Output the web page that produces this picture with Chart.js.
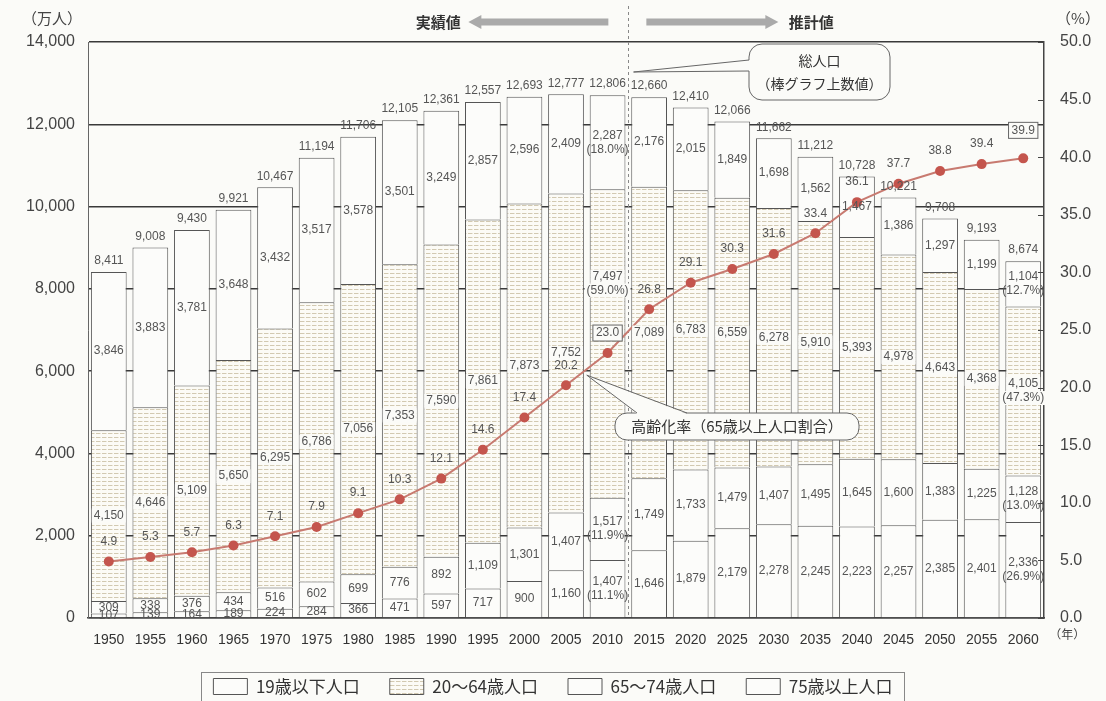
<!DOCTYPE html>
<html lang="ja">
<head>
<meta charset="utf-8">
<script src="https://cdn.jsdelivr.net/npm/chart.js@4.4.1/dist/chart.umd.min.js"></script>
<style>
  html, body { margin: 0; padding: 0; background: #fbfbf8; }
  #wrap { width: 1106px; height: 701px; }
</style>
</head>
<body>
<div id="wrap"><canvas id="chart" width="1106" height="701"></canvas></div>
<script>
var years = ['1950', '1955', '1960', '1965', '1970', '1975', '1980', '1985', '1990', '1995', '2000', '2005',
  '2010', '2015', '2020', '2025', '2030', '2035', '2040', '2045', '2050', '2055', '2060'];

// 万人, stacked from the bottom up
var pop75plus = [107, 139, 164, 189, 224, 284, 366, 471, 597, 717, 900, 1160,
  1407, 1646, 1879, 2179, 2278, 2245, 2223, 2257, 2385, 2401, 2336];
var pop65to74 = [309, 338, 376, 434, 516, 602, 699, 776, 892, 1109, 1301, 1407,
  1517, 1749, 1733, 1479, 1407, 1495, 1645, 1600, 1383, 1225, 1128];
var pop20to64 = [4150, 4646, 5109, 5650, 6295, 6786, 7056, 7353, 7590, 7861, 7873, 7752,
  7497, 7089, 6783, 6559, 6278, 5910, 5393, 4978, 4643, 4368, 4105];
var pop19under = [3846, 3883, 3781, 3648, 3432, 3517, 3578, 3501, 3249, 2857, 2596, 2409,
  2287, 2176, 2015, 1849, 1698, 1562, 1467, 1386, 1297, 1199, 1104];
var totalPop = [8411, 9008, 9430, 9921, 10467, 11194, 11706, 12105, 12361, 12557, 12693, 12777,
  12806, 12660, 12410, 12066, 11662, 11212, 10728, 10221, 9708, 9193, 8674];

// 高齢化率 (%)
var agingRate = [4.9, 5.3, 5.7, 6.3, 7.1, 7.9, 9.1, 10.3, 12.1, 14.6, 17.4, 20.2,
  23.0, 26.8, 29.1, 30.3, 31.6, 33.4, 36.1, 37.7, 38.8, 39.4, 39.9];

// age-group shares, same order as the stack (75+, 65-74, 20-64, 0-19)
var shares2010 = [11.1, 11.9, 59.0, 18.0];
var shares2060 = [26.9, 13.0, 47.3, 12.7];

var leftTicks = [0, 2000, 4000, 6000, 8000, 10000, 12000, 14000];
var rightTicks = [0, 5, 10, 15, 20, 25, 30, 35, 40, 45, 50];

var FONT = '"Liberation Sans", Arial, "Noto Sans CJK JP", sans-serif';
var JFONT = '"Noto Sans CJK JP", sans-serif';
var BG = '#fbfbf8';
var LEGEND_PAD = 30;

var canvas = document.getElementById('chart');
var ctx = canvas.getContext('2d');

function makeDots() {
  var c = document.createElement('canvas');
  c.width = 6; c.height = 4;
  var g = c.getContext('2d');
  g.fillStyle = '#fcfbf6';
  g.fillRect(0, 0, 6, 4);
  g.fillStyle = 'rgba(175,160,120,0.55)';
  g.fillRect(0, 1, 4, 1);
  g.fillStyle = 'rgba(175,160,120,0.25)';
  g.fillRect(4, 1, 1, 1);
  return ctx.createPattern(c, 'repeat');
}

function fmt(n) {
  return n.toLocaleString('en-US');
}

function shareFor(i, d) {
  if (years[i] === '2010') return shares2010[d];
  if (years[i] === '2060') return shares2060[d];
  return null;
}

var barLabels = {
  id: 'barLabels',
  afterDatasetsDraw: function(chart) {
    var c = chart.ctx;
    c.save();
    c.font = '12px ' + FONT;
    c.textAlign = 'center';
    c.textBaseline = 'middle';
    for (var d = 0; d < 4; d++) {
      var meta = chart.getDatasetMeta(d);
      var vals = chart.data.datasets[d].data;
      meta.data.forEach(function(bar, i) {
        var cy = (bar.y + bar.base) / 2;
        // 2010 working-age label sits high to keep clear of the rate line
        if (d === 2 && years[i] === '2010') cy -= 60;
        var lines = [fmt(vals[i])];
        var s = shareFor(i, d);
        if (s !== null) lines.push('(' + s.toFixed(1) + '%)');
        var lh = 14;
        var y0 = cy - (lines.length - 1) * lh / 2;
        lines.forEach(function(t, k) {
          var w = c.measureText(t).width;
          if (d === 2) {
            c.fillStyle = BG;
            c.fillRect(bar.x - w / 2 - 2, y0 + k * lh - 7, w + 4, 14);
          }
          c.fillStyle = '#555';
          c.fillText(t, bar.x, y0 + k * lh);
        });
      });
    }
    // totals above the bars
    var top = chart.getDatasetMeta(3);
    top.data.forEach(function(bar, i) {
      c.fillStyle = '#555';
      c.fillText(fmt(totalPop[i]), bar.x, bar.y - 11);
    });
    // aging rate values above the points
    var line = chart.getDatasetMeta(4);
    line.data.forEach(function(pt, i) {
      var t = agingRate[i].toFixed(1);
      var ty = pt.y - 20;
      if (i === 12 || i === 22) {
        var w = c.measureText(t).width;
        if (i === 22) ty = pt.y - 28;
        c.fillStyle = BG;
        c.fillRect(pt.x - w / 2 - 3, ty - 8, w + 6, 16);
        c.strokeStyle = '#666';
        c.lineWidth = 1;
        c.strokeRect(pt.x - w / 2 - 3, ty - 8, w + 6, 16);
      }
      c.fillStyle = '#555';
      c.fillText(t, pt.x, ty);
    });
    c.restore();
  }
};

function roundBox(c, x, y, w, h, r) {
  c.beginPath();
  c.moveTo(x + r, y);
  c.lineTo(x + w - r, y);
  c.arcTo(x + w, y, x + w, y + r, r);
  c.lineTo(x + w, y + h - r);
  c.arcTo(x + w, y + h, x + w - r, y + h, r);
  c.lineTo(x + r, y + h);
  c.arcTo(x, y + h, x, y + h - r, r);
  c.lineTo(x, y + r);
  c.arcTo(x, y, x + r, y, r);
  c.closePath();
}

function arrow(c, x0, x1, y, dir) {
  // gray band with a triangular head at x1
  var head = 13 * dir;
  c.fillStyle = '#aaa';
  c.beginPath();
  c.moveTo(x0, y - 3.5);
  c.lineTo(x1 - head, y - 3.5);
  c.lineTo(x1 - head, y - 7);
  c.lineTo(x1, y);
  c.lineTo(x1 - head, y + 7);
  c.lineTo(x1 - head, y + 3.5);
  c.lineTo(x0, y + 3.5);
  c.closePath();
  c.fill();
}

var decor = {
  id: 'decor',
  afterLayout: function(chart) {
    chart.legend.top += 4;
    chart.legend.bottom += 4;
  },
  beforeDatasetsDraw: function(chart) {
    var c = chart.ctx, xs = chart.scales.x, a = chart.chartArea;
    var divX = Math.round((xs.getPixelForValue(12) + xs.getPixelForValue(13)) / 2) + 0.5;
    c.save();
    c.strokeStyle = '#888';
    c.lineWidth = 1;
    c.setLineDash([3, 3]);
    c.beginPath();
    c.moveTo(divX, 6);
    c.lineTo(divX, a.bottom);
    c.stroke();
    c.restore();
  },
  afterDraw: function(chart) {
    var c = chart.ctx, a = chart.chartArea;
    var xs = chart.scales.x, y1 = chart.scales.y1;
    var divX = (xs.getPixelForValue(12) + xs.getPixelForValue(13)) / 2;
    c.save();

    // 実績値 / 推計値 header
    arrow(c, divX - 20, divX - 160, 22, -1);
    arrow(c, divX + 18, divX + 150, 22, 1);
    c.fillStyle = '#333';
    c.font = 'bold 15px ' + JFONT;
    c.textAlign = 'center';
    c.textBaseline = 'middle';
    c.fillText('実績値', divX - 190, 22);
    c.fillText('推計値', divX + 183, 22);

    // axis unit captions
    c.font = '15px ' + JFONT;
    c.fillStyle = '#444';
    c.fillText('（万人）', 52, 18);
    c.fillText('（%）', 1078, 18);
    c.font = '12px ' + JFONT;
    c.fillText('（年）', xs.getPixelForValue(22) + 44, 634);

    // inward ticks on the right axis
    c.strokeStyle = '#444';
    c.lineWidth = 1;
    rightTicks.forEach(function(v) {
      var yy = Math.round(y1.getPixelForValue(v)) + 0.5;
      c.beginPath();
      c.moveTo(a.right - 6, yy);
      c.lineTo(a.right, yy);
      c.stroke();
    });

    // 総人口 callout
    var bx = 749, by = 44, bw = 141, bh = 56;
    var tipX = xs.getPixelForValue(12) + 26, tipY = 72;
    c.fillStyle = BG;
    c.strokeStyle = '#666';
    c.lineWidth = 1;
    roundBox(c, bx, by, bw, bh, 13);
    c.fill();
    c.stroke();
    c.beginPath();
    c.moveTo(bx + 1, by + 16);
    c.lineTo(tipX, tipY);
    c.lineTo(bx + 1, by + 27);
    c.closePath();
    c.fill();
    c.beginPath();
    c.moveTo(bx, by + 16);
    c.lineTo(tipX, tipY);
    c.lineTo(bx, by + 27);
    c.stroke();
    c.fillStyle = '#333';
    c.font = '14px ' + JFONT;
    c.fillText('総人口', bx + bw / 2, by + 17);
    c.fillText('（棒グラフ上数値）', bx + bw / 2, by + 40);

    // 高齢化率 callout
    var px = (xs.getPixelForValue(11) + xs.getPixelForValue(12)) / 2;
    var py = y1.getPixelForValue((agingRate[11] + agingRate[12]) / 2) + 6;
    var cx = 615, cy = 413, cw = 244, ch = 27;
    c.fillStyle = BG;
    c.strokeStyle = '#666';
    roundBox(c, cx, cy, cw, ch, 12);
    c.fill();
    c.stroke();
    c.beginPath();
    c.moveTo(cx + 22, cy + 1);
    c.lineTo(px, py);
    c.lineTo(cx + 72, cy + 1);
    c.closePath();
    c.fill();
    c.beginPath();
    c.moveTo(cx + 22, cy);
    c.lineTo(px, py);
    c.lineTo(cx + 72, cy);
    c.stroke();
    c.fillStyle = '#333';
    c.font = '15px ' + JFONT;
    c.fillText('高齢化率（65歳以上人口割合）', cx + cw / 2, cy + ch / 2);

    // frame around the legend
    var lg = chart.legend;
    if (lg && lg.legendHitBoxes && lg.legendHitBoxes.length) {
      var total = 0;
      lg.legendHitBoxes.forEach(function(h) { total += h.width; });
      total += (lg.legendHitBoxes.length - 1) * LEGEND_PAD;
      var mid = (lg.left + lg.right) / 2;
      var ly = lg.top + LEGEND_PAD - 6;
      c.strokeStyle = '#888';
      c.strokeRect(Math.round(mid - total / 2 - 12) + 0.5, Math.round(ly) + 0.5, Math.round(total + 24), 29);
    }
    c.restore();
  }
};

var dots = makeDots();

function barSet(label, data, fill) {
  return {
    type: 'bar',
    label: label,
    data: data,
    backgroundColor: fill,
    borderColor: '#555',
    borderWidth: 1,
    barPercentage: 0.86,
    categoryPercentage: 1,
    yAxisID: 'y'
  };
}

new Chart(ctx, {
  data: {
    labels: years,
    datasets: [
      barSet('75歳以上人口', pop75plus, '#fcfcfa'),
      barSet('65～74歳人口', pop65to74, '#fcfcfa'),
      barSet('20～64歳人口', pop20to64, dots),
      barSet('19歳以下人口', pop19under, '#fcfcfa'),
      {
        type: 'line',
        label: '高齢化率',
        data: agingRate,
        yAxisID: 'y1',
        order: -1,
        borderColor: '#c87a70',
        borderWidth: 2,
        pointRadius: 5,
        pointBackgroundColor: '#c4554d',
        pointBorderWidth: 0,
        tension: 0
      }
    ]
  },
  options: {
    responsive: false,
    animation: false,
    layout: { padding: { top: 42, left: 0, right: 0, bottom: 0 } },
    plugins: {
      tooltip: { enabled: false },
      legend: {
        position: 'bottom',
        reverse: true,
        labels: {
          filter: function(item) { return item.text !== '高齢化率'; },
          boxWidth: 34,
          boxHeight: 16,
          padding: LEGEND_PAD,
          color: '#333',
          font: { size: 17, family: JFONT }
        }
      }
    },
    scales: {
      x: {
        stacked: true,
        grid: { display: false },
        border: { display: true, color: '#444', width: 1.5 },
        ticks: { color: '#333', padding: 6, font: { size: 14, family: FONT }, maxRotation: 0, autoSkip: false },
        afterFit: function(s) { s.height = 26; }
      },
      y: {
        stacked: true,
        min: 0,
        max: 14000,
        afterBuildTicks: function(s) { s.ticks = leftTicks.map(function(v) { return { value: v }; }); },
        grid: { color: '#3a3a3a', lineWidth: 1.5, drawTicks: false },
        border: { display: true, color: '#666', width: 1 },
        ticks: {
          color: '#444',
          padding: 13,
          font: { size: 16, family: FONT },
          callback: function(v) { return fmt(v); }
        },
        afterFit: function(s) { s.width = 88; }
      },
      y1: {
        position: 'right',
        min: 0,
        max: 50,
        afterBuildTicks: function(s) { s.ticks = rightTicks.map(function(v) { return { value: v }; }); },
        grid: { drawOnChartArea: false, drawTicks: false },
        border: { display: true, color: '#444', width: 1.5 },
        ticks: {
          color: '#444',
          padding: 16,
          font: { size: 16, family: FONT },
          callback: function(v) { return v.toFixed(1); }
        },
        afterFit: function(s) { s.width = 62; }
      }
    }
  },
  plugins: [barLabels, decor]
});
</script>
</body>
</html>
